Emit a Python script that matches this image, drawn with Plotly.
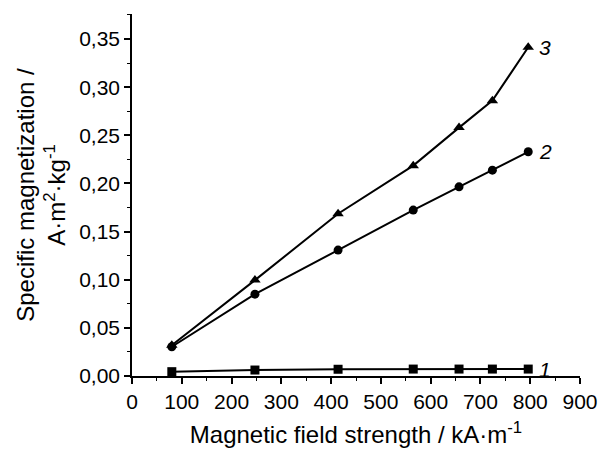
import plotly.graph_objects as go

field = [80, 247, 414, 565, 657, 724, 796]
s1 = [0.0045, 0.0062, 0.0070, 0.0072, 0.0072, 0.0072, 0.0072]
s2 = [0.0304, 0.0850, 0.1308, 0.1723, 0.1965, 0.2138, 0.2329]
s3 = [0.0320, 0.0996, 0.1685, 0.2185, 0.2580, 0.2860, 0.3415]
labels = ["1", "2", "3"]
symbols = ["square", "circle", "triangle-up"]

FONT = "Arial"
TICK_FS = 21
TITLE_FS = 24
fig = go.Figure()
for ys, sym, lab in zip([s1, s2, s3], symbols, labels):
    fig.add_trace(go.Scatter(
        x=field, y=ys, mode="lines+markers",
        line=dict(color="black", width=2),
        marker=dict(symbol=sym, size=9 if sym != "triangle-up" else 10, color="black"),
        showlegend=False, name=lab))
    fig.add_annotation(x=field[-1], y=ys[-1], text="<i>" + lab + "</i>", showarrow=False,
                       xanchor="left", yanchor="middle", xshift=9,
                       font=dict(family=FONT, size=21, color="black"))

axis_common = dict(showline=True, linecolor="black", linewidth=1.5, ticks="outside",
                   ticklen=6, tickwidth=1.5, tickcolor="black", showgrid=False, zeroline=False,
                   automargin=False,
                   tickfont=dict(family=FONT, size=TICK_FS, color="black"))
fig.update_xaxes(range=[0, 900], dtick=100, tick0=0,
                 minor=dict(dtick=50, ticks="outside", ticklen=3, tickwidth=1.2, tickcolor="black"),
                 title=dict(text="Magnetic field strength / kA·m<sup>-1</sup>", standoff=14,
                            font=dict(family=FONT, size=TITLE_FS, color="black")),
                 **axis_common)
fig.update_yaxes(range=[0, 0.376], dtick=0.05, tick0=0, tickformat=".2f",
                 minor=dict(dtick=0.025, ticks="outside", ticklen=3, tickwidth=1.2, tickcolor="black"),
                 title=dict(text="Specific magnetization /<br>A·m<sup>2</sup>·kg<sup>-1</sup>", standoff=7,
                            font=dict(family=FONT, size=TITLE_FS, color="black")),
                 **axis_common)
fig.update_layout(width=601, height=452, margin=dict(l=132, r=21, t=14, b=76),
                  plot_bgcolor="white", paper_bgcolor="white", separators=", ",
                  font=dict(family=FONT, size=TICK_FS, color="black"))
fig.write_html("out.html", config={"displayModeBar": False, "responsive": False},
               post_script="document.body.style.margin='0';document.body.style.overflow='hidden';"
                           "document.documentElement.style.overflow='hidden';")
